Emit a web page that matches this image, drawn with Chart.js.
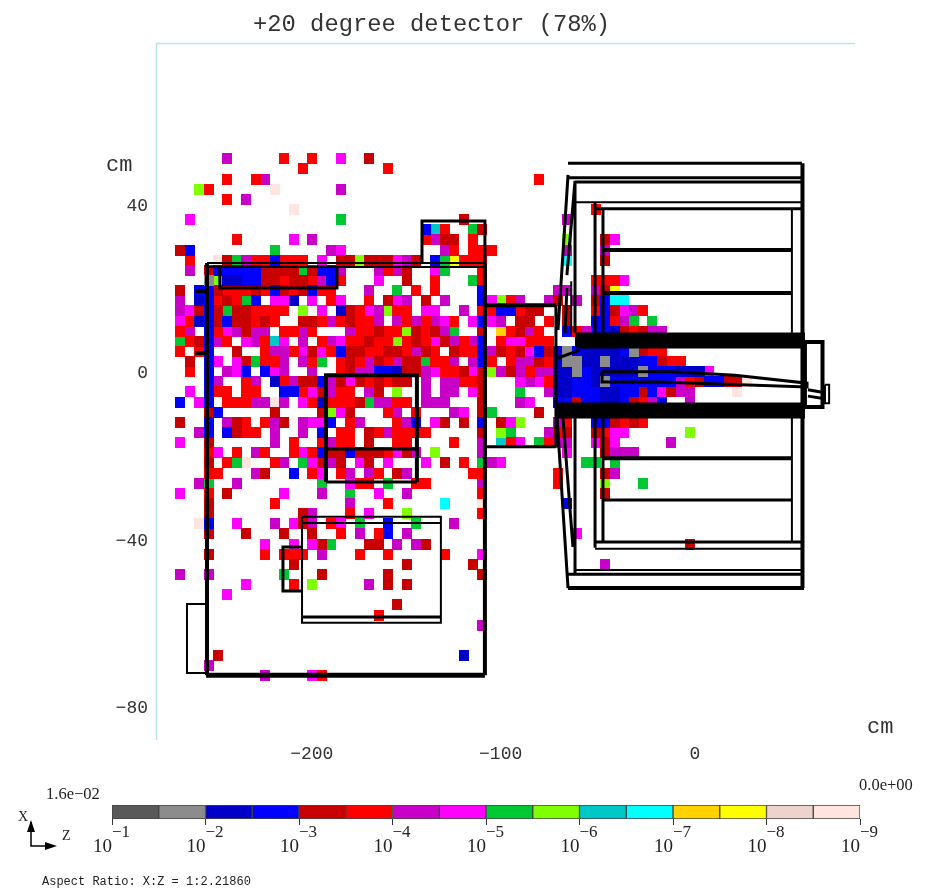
<!DOCTYPE html>
<html>
<head>
<meta charset="utf-8">
<title>+20 degree detector</title>
<script src="https://cdn.jsdelivr.net/npm/chart.js@4/dist/chart.umd.min.js"></script>
<style>
  html, body { margin: 0; padding: 0; background: #fff; }
  canvas { position: absolute; left: 0; display: block; }
  #detector { top: 0; }
  #colorbar { top: 770px; }
</style>
</head>
<body>
<canvas id="detector" width="936" height="770"></canvas>
<canvas id="colorbar" width="936" height="122"></canvas>
<script>
// colour legend, one code per bin, from 10^-1 down to 10^-9
const binCodes = 'abcdefghijklmnop'.split('');
const binColors = ['#595959', '#8c8c8c', '#0000c8', '#0000ff', '#c80000', '#ff0000', '#c800c8', '#ff00ff',
  '#00c832', '#80ff00', '#00c8c8', '#00ffff', '#ffd200', '#ffff00', '#eed2cc', '#ffe4e0'];
const binRanges = [[-1, -1.5], [-1.5, -2], [-2, -2.5], [-2.5, -3], [-3, -3.5], [-3.5, -4], [-4, -4.5], [-4.5, -5],
  [-5, -5.5], [-5.5, -6], [-6, -6.5], [-6.5, -7], [-7, -7.5], [-7.5, -8], [-8, -8.5], [-8.5, -9]];
const legendTicks = [-1, -2, -3, -4, -5, -6, -7, -8, -9];

// axes, in cm
const zTicks = [-200, -100, 0];
const xTicks = [40, 0, -40, -80];
const zRange = [-285.3, 84.7];
const xRange = [-87.47, 78.88];

// binning of the map: 5 cm columns, 2.42 cm rows
const firstColZ = -250;
const colWidth = 5;
const firstRowX = 52.46;
const rowHeight = 2.42;

// one list per row from the top: start column, colour codes, start column, colour codes...
const cellRows = [
  [0, 'g', 6, 'f', 9, 'f', 12, 'h', 15, 'e'],
  [8, 'f', 17, 'f'],
  [0, 'f', 3, 'fg', 33, 'f'],
  [-3, 'jf', 5, 'p', 12, 'g'],
  [0, 'f', 2, 'g'],
  [7, 'p', 39, 'f'],
  [-4, 'h', 12, 'i', 25, 'e', 36, 'g'],
  [21, 'dkf', 26, 'ie'],
  [1, 'f', 7, 'h', 9, 'g', 21, 'fgee', 26, 'f', 36, 'j', 40, 'eh'],
  [-5, 'ed', 5, 'i', 11, 'gh', 23, 'gf', 26, 'fff', 36, 'g', 40, 'g'],
  [-4, 'f', -1, 'peigffdfff', 10, 'h', 12, 'eejeeehge', 22, 'dinfff', 36, 'l', 40, 'e'],
  [-4, 'g', -2, 'ed', 0, 'ddddeeeeieddg', 16, 'gfge', 22, 'hi', 27, 'f'],
  [-2, 'bj', 0, 'ccddeefeefgdf', 16, 'h', 19, 'e', 22, 'f', 26, 'if', 39, 'fffh'],
  [-5, 'e', -3, 'ddefffefdefedff', 15, 'g', 18, 'i', 20, 'f', 22, 'f', 27, 'd', 35, 'gg', 39, 'gen'],
  [-5, 'g', -3, 'cdfefid', 5, 'hhc', 9, 'h', 11, 'fh', 15, 'f', 17, 'ehg', 21, 'e', 23, 'g', 27, 'dhjfg', 34, 'ge', 37, 'g', 39, 'edll'],
  [-5, 'gh', -3, 'edeieeffff', 8, 'j', 10, 'h', 12, 'cefhgjff', 21, 'hh', 25, 'g', 27, 'ffddfee', 36, 'e', 39, 'fdehgf'],
  [-5, 'hfcdedeefef', 8, 'eefgfeffg', 18, 'gfgfghf', 26, 'hdhg', 31, 'ee', 34, 'f', 36, 'e', 39, 'ddfgi', 45, 'i'],
  [-5, 'fg', -2, 'dfhgegg', 6, 'ffgf', 13, 'gffeffjefegi', 27, 'e', 29, 'mfegf', 36, 'dfg', 39, 'ddcefegg'],
  [-5, 'ifedgf', 2, 'hgfkh', 8, 'g', 10, 'fghffeffjfefhegfgd', 29, 'fhhfff'],
  [-5, 'f', -3, 'fd', 1, 'e', 4, 'fggfhehfdeeffeefgef', 24, 'eff', 27, 'dg', 29, 'efehde', 35, 'cbd', 38, 'ccccd', 43, 'beff'],
  [-4, 'e', -2, 'dh', 1, 'heiff', 6, 'g', 8, 'gfi', 12, 'fefgefgee', 21, 'iffg', 26, 'gdf', 30, 'fggef', 35, 'cbb', 38, 'ccb', 41, 'cccddeff'],
  [-4, 'f', -2, 'd', 0, 'gh', 2, 'd', 4, 'dhg', 9, 'g', 12, 'feggddceeghffehejgegfgg', 35, 'ccb', 38, 'dccccc', 44, 'b', 45, 'dddccch'],
  [-2, 'dg', 2, 'fg', 5, 'cfgeedgehefefee', 21, 'g', 23, 'ggff', 27, 'e', 31, 'hghf', 35, 'ccddcb', 41, 'ddddddd', 48, 'gfeddeep'],
  [-4, 'h', -2, 'dff', 2, 'ff', 6, 'ddfhegff', 15, 'ge', 18, 'j', 21, 'g', 23, 'gg', 26, 'he', 31, 'i', 34, 'g', 35, 'ccddd', 40, 'ccddedhegg', 54, 'p'],
  [-5, 'd', -3, 'hd', 0, 'fffggpg', 8, 'hfcfffeiggff', 21, 'ggg', 27, 'e', 31, 'gh', 35, 'ddedd', 40, 'ccdefgd', 49, 'g'],
  [-2, 'ed', 5, 'e', 10, 'ejhe', 17, 'fg', 20, 'f', 24, 'gh', 27, 'ei', 33, 'e'],
  [-5, 'e', -2, 'd', 0, 'gef', 4, 'fge', 8, 'ghhd', 13, 'fg', 18, 'fgd', 22, 'he', 25, 'e', 27, 'd', 29, 'ehj', 35, 'gf', 39, 'ddefef'],
  [-3, 'gd', 0, 'deff', 5, 'g', 8, 'g', 10, 'd', 12, 'ff', 15, 'efgffff', 27, 'e', 29, 'ji', 34, 'gfe', 39, 'efhh', 49, 'j'],
  [-5, 'h', -2, 'e', 5, 'g', 7, 'f', 10, 'fgff', 15, 'e', 18, 'ff', 24, 'f', 27, 'g', 29, 'kfh', 33, 'ifgg', 39, 'heh', 47, 'g'],
  [-2, 'fh', 1, 'f', 3, 'gf', 7, 'fhfdeedeeefheg', 22, 'j', 27, 'g', 36, 'h', 40, 'eggg'],
  [-2, 'e', 0, 'fip', 5, 'fg', 8, 'ihege', 14, 'he', 17, 'h', 21, 'h', 23, 'e', 25, 'f', 27, 'igh', 38, 'ii', 41, 'i'],
  [-2, 'ff', 3, 'ge', 7, 'd', 9, 'fh', 12, 'fg', 15, 'gf', 18, 'eg', 26, 'ff', 35, 'f', 40, 'eg'],
  [-3, 'gi', 1, 'g', 10, 'i', 13, 'hff', 17, 'i', 20, 'ff', 27, 'g', 35, 'f', 40, 'j', 44, 'i'],
  [-5, 'h', -2, 'f', 0, 'e', 6, 'h', 10, 'g', 13, 'i', 16, 'h', 19, 'g', 27, 'f', 40, 'e'],
  [-2, 'e', 5, 'f', 13, 'g', 17, 'f', 23, 'l', 27, 'p', 36, 'd'],
  [-2, 'e', 8, 'eg', 13, 'f', 15, 'h', 19, 'j', 27, 'f'],
  [-3, 'pd', 1, 'h', 5, 'g', 7, 'heg', 11, 'fh', 14, 'i', 17, 'd', 20, 'i', 24, 'g'],
  [-2, 'e', 2, 'e', 6, 'e', 9, 'e', 12, 'f', 14, 'g', 16, 'fd', 19, 'g', 37, 'h'],
  [4, 'h', 7, 'h', 9, 'hei', 15, 'ee', 18, 'g', 20, 'ge', 49, 'e'],
  [-2, 'e', 4, 'f', 6, 'fff', 10, 'g', 14, 'f', 17, 'f', 23, 'f', 27, 'h'],
  [7, 'e', 19, 'e', 26, 'e', 40, 'g'],
  [-5, 'g', -2, 'g', 6, 'i', 10, 'e', 17, 'e', 27, 'e'],
  [2, 'h', 7, 'f', 9, 'j', 15, 'g', 17, 'e', 19, 'e'],
  [0, 'h'],
  [18, 'e'],
  [16, 'f'],
  [27, 'g'],
  [],
  [],
  [-1, 'e', 25, 'c'],
  [-2, 'g'],
  [4, 'g', 9, 'hf']
];

// detector outlines in cm, each one z,x,z,x... grouped by line weight
const bandOutlines = [
  [-63.5, 7.9, 58.2, 7.9],
  [-73, -8.8, 58.2, -8.8]
];
const heavyOutlines = [
  [-258.8, -72, -111.2, -72]
];
const strongOutlines = [
  [-258.3, 26.4, -258.3, -72],
  [-111.2, 26.4, -111.2, -72],
  [-264.7, 19.7, -258.3, 19.7],
  [-264.7, 4.9, -258.3, 4.9],
  [-111.2, 16.3, -73.6, 16.3],
  [-195.3, -25.9, -195.3, -0.4, -147.2, -0.4, -147.2, -25.9],
  [56.9, 50.2, 56.9, -51.2],
  [-67.2, -51.2, 57.7, -51.2],
  [-48.7, 29.5, 51.3, 29.5],
  [-48.7, 19.2, 51.3, 19.2],
  [-48.7, -20.2, 51.3, -20.2],
  [58.2, 7.5, 67.5, 7.5, 67.5, -8, 58.2, -8, 58.2, 7.5]
];
const mediumOutlines = [
  [-251.5, 25.4, -251.5, 20.4, -189.5, 20.4, -189.5, 25.4],
  [-144.5, 26.4, -144.5, 36.4, -111.2, 36.4, -111.2, 26.4],
  [-111.2, -17.5, -73.6, -17.5],
  [-73.6, 16.3, -73.6, -17.5],
  [-195.3, -18, -147.2, -18],
  [-195.3, -25.9, -147.2, -25.9],
  [-208, -58.1, -134.5, -58.1],
  [-208, -41.4, -218.1, -41.4, -218.1, -51.9, -208, -51.9],
  [-67.2, 50.2, 56.6, 50.2],
  [-67.2, 46.7, 56.6, 46.7],
  [-63.5, 45.7, 56.6, 45.7],
  [-52.9, 39.3, 56.6, 39.3],
  [-63.5, 46, -63.5, 9.7],
  [-52.9, 40.9, -52.9, 9.7],
  [-48.7, 39.3, -48.7, 9.7],
  [-63.5, -10.6, -63.5, -47.6],
  [-52.9, -10.6, -52.9, -41.6],
  [-48.7, -10.6, -48.7, -40.2],
  [-52.9, -40.2, 56.6, -40.2],
  [-67, -47.9, 56.6, -47.9],
  [-48.7, -30.2, 51.3, -30.2],
  [-67.2, 47.4, -72.5, 10.4],
  [-63.5, 46, -67.8, 23.5],
  [-67.8, 20.4, -68.8, 9.7],
  [-73, -10.6, -67.2, -51.2],
  [-69.9, -10.6, -64.6, -41.4],
  [-72.5, 3.7, -60.9, 5.6],
  [-49.2, 0.4, -12.2, 0.4, 21.2, -0.4, 59.3, -2.3, 59.3, -3.2, -19, -2, -49.2, -2, -49.2, 0.4],
  [59.8, -3.9, 68.8, -4.6],
  [59.8, -5.4, 68.8, -6]
];
const thinOutlines = [
  [-258.3, 26.4, -111.2, 26.4],
  [-258.3, 25.4, -111.2, 25.4],
  [-208, -34.2, -134.5, -34.2, -134.5, -59.5, -208, -59.5, -208, -34.2],
  [-208, -35.7, -134.5, -35.7],
  [-258.3, -55, -268.9, -55, -268.9, -71.5, -258.3, -71.5],
  [-63.5, 40.9, 56.6, 40.9],
  [51.3, 39.3, 51.3, 9.7],
  [51.3, -10.6, 51.3, -40.2],
  [-52.9, -41.8, 56.6, -41.8],
  [-63.5, -46.9, 56.6, -46.9],
  [-65.5, 22, -65.5, 9.7],
  [68.8, -2.7, 71, -2.7, 71, -7.1, 68.8, -7.1, 68.8, -2.7]
];

// cell marker, drawn once per colour and used as the point style
function cellImage(color) {
  const c = document.createElement('canvas');
  c.width = 10;
  c.height = 11;
  const g = c.getContext('2d');
  g.fillStyle = color;
  g.fillRect(0, 0, 10, 11);
  return c;
}

const cellsByCode = {};
binCodes.forEach(code => { cellsByCode[code] = []; });
cellRows.forEach((row, r) => {
  for (let i = 0; i < row.length; i += 2) {
    row[i + 1].split('').forEach((code, k) => {
      cellsByCode[code].push({
        x: firstColZ + (row[i] + k + 0.5) * colWidth,
        y: firstRowX - (r + 0.5) * rowHeight
      });
    });
  }
});

const cellDatasets = binCodes.map((code, i) => ({
  label: code,
  data: cellsByCode[code],
  pointStyle: cellImage(binColors[i]),
  pointRadius: 5,
  showLine: false,
  order: 2
}));

function outlineDataset(lines, width) {
  const data = [];
  lines.forEach(line => {
    for (let i = 0; i < line.length; i += 2) data.push({ x: line[i], y: line[i + 1] });
    data.push({ x: null, y: null });
  });
  return {
    data: data,
    showLine: true,
    pointRadius: 0,
    borderColor: '#000',
    borderWidth: width,
    borderJoinStyle: 'miter',
    spanGaps: false,
    order: 1
  };
}

const outlineDatasets = [
  outlineDataset(thinOutlines, 2),
  outlineDataset(mediumOutlines, 3),
  outlineDataset(strongOutlines, 4),
  outlineDataset(heavyOutlines, 5),
  outlineDataset(bandOutlines, 16)
];

// title, frame and unit labels
const frameAndTitle = {
  id: 'frameAndTitle',
  afterDraw(chart) {
    const ctx = chart.ctx;
    const a = chart.chartArea;
    ctx.save();
    ctx.strokeStyle = '#b8e2ef';
    ctx.lineWidth = 1.5;
    ctx.beginPath();
    ctx.moveTo(a.left + 0.5, a.bottom);
    ctx.lineTo(a.left + 0.5, a.top + 0.5);
    ctx.lineTo(a.right, a.top + 0.5);
    ctx.stroke();
    ctx.fillStyle = '#333';
    ctx.textBaseline = 'middle';
    ctx.font = '23.8px "Liberation Mono"';
    ctx.fillText('+20 degree detector (78%)', 253, 25);
    ctx.font = '22px "Liberation Mono"';
    ctx.fillText('cm', 106, 165);
    ctx.fillText('cm', 867, 727);
    ctx.restore();
  }
};

new Chart(document.getElementById('detector'), {
  type: 'scatter',
  data: { datasets: cellDatasets.concat(outlineDatasets) },
  options: {
    responsive: false,
    animation: false,
    layout: { padding: { left: 0, top: 43, right: 81, bottom: 0 } },
    plugins: { legend: { display: false }, tooltip: { enabled: false } },
    scales: {
      x: {
        type: 'linear',
        min: zRange[0],
        max: zRange[1],
        grid: { display: false, drawTicks: false },
        border: { display: false },
        afterBuildTicks: s => { s.ticks = zTicks.map(v => ({ value: v })); },
        afterFit: s => { s.height = 30; },
        ticks: {
          color: '#333',
          padding: 3,
          maxRotation: 0,
          font: { family: '"Liberation Mono"', size: 18 },
          callback: v => (v < 0 ? '\u2212' + Math.abs(v) + ' ' : String(v))
        }
      },
      y: {
        type: 'linear',
        min: xRange[0],
        max: xRange[1],
        grid: { display: false, drawTicks: false },
        border: { display: false },
        afterBuildTicks: s => { s.ticks = xTicks.map(v => ({ value: v })); },
        afterFit: s => { s.width = 156; },
        ticks: {
          color: '#333',
          padding: 8,
          font: { family: '"Liberation Mono"', size: 18 },
          callback: v => (v < 0 ? '\u2212' + Math.abs(v) : String(v))
        }
      }
    }
  },
  plugins: [frameAndTitle]
});

// legend labels, the powers of ten and the little axis sign
const legendText = {
  id: 'legendText',
  afterDraw(chart) {
    const ctx = chart.ctx;
    const scale = chart.scales.x;
    ctx.save();
    ctx.fillStyle = '#222';
    ctx.textBaseline = 'middle';
    scale.ticks.forEach(t => {
      const px = scale.getPixelForValue(t.value);
      ctx.font = '19px "Liberation Serif"';
      ctx.textAlign = 'right';
      ctx.fillText('10', px, 77);
      ctx.font = '17px "Liberation Serif"';
      ctx.textAlign = 'left';
      ctx.fillText('\u2212' + Math.abs(t.value), px, 63);
    });
    ctx.textAlign = 'left';
    ctx.font = '16.5px "Liberation Serif"';
    ctx.fillText('1.6e\u221202', 46, 25);
    ctx.fillText('0.0e+00', 859, 16);
    ctx.font = '14px "Liberation Serif"';
    ctx.fillText('X', 18, 47);
    ctx.fillText('Z', 62, 66);
    ctx.font = '12px "Liberation Mono"';
    ctx.fillText('Aspect Ratio: X:Z = 1:2.21860', 42, 112);

    ctx.strokeStyle = '#000';
    ctx.lineWidth = 1.5;
    ctx.beginPath();
    ctx.moveTo(31, 52);
    ctx.lineTo(31, 76);
    ctx.lineTo(50, 76);
    ctx.stroke();
    ctx.fillStyle = '#000';
    ctx.beginPath();
    ctx.moveTo(31, 50);
    ctx.lineTo(27, 62);
    ctx.lineTo(35, 62);
    ctx.closePath();
    ctx.moveTo(57, 76);
    ctx.lineTo(45, 72);
    ctx.lineTo(45, 80);
    ctx.closePath();
    ctx.fill();
    ctx.restore();
  }
};

new Chart(document.getElementById('colorbar'), {
  type: 'bar',
  data: {
    labels: ['bins'],
    datasets: binRanges.map((range, i) => ({
      data: [range],
      backgroundColor: binColors[i],
      borderColor: '#444',
      borderWidth: 1,
      borderSkipped: false,
      grouped: false,
      barPercentage: 1,
      categoryPercentage: 1
    }))
  },
  options: {
    indexAxis: 'y',
    responsive: false,
    animation: false,
    layout: { padding: { left: 112, top: 35, right: 76, bottom: 0 } },
    plugins: { legend: { display: false }, tooltip: { enabled: false } },
    scales: {
      x: {
        type: 'linear',
        reverse: true,
        min: legendTicks[legendTicks.length - 1],
        max: legendTicks[0],
        border: { display: false },
        grid: { drawOnChartArea: false, drawTicks: true, tickLength: 6, color: '#333' },
        afterBuildTicks: s => { s.ticks = legendTicks.map(v => ({ value: v })); },
        afterFit: s => { s.height = 73; },
        ticks: { display: false }
      },
      y: { display: false }
    }
  },
  plugins: [legendText]
});
</script>
</body>
</html>
